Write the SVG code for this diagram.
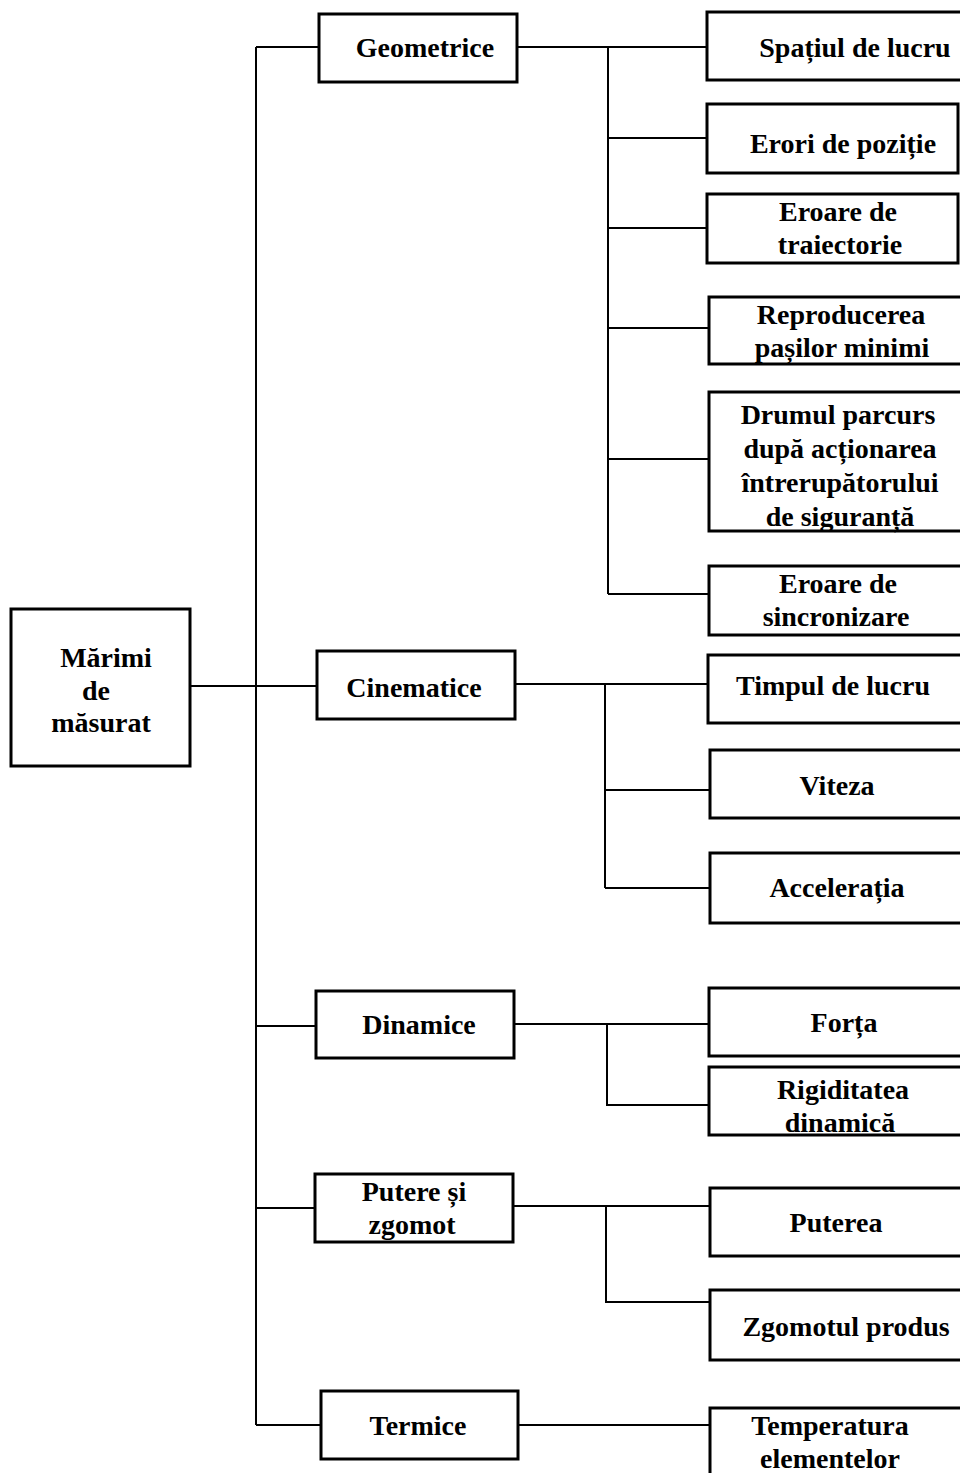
<svg xmlns="http://www.w3.org/2000/svg" width="960" height="1473" viewBox="0 0 960 1473">
<style>
.box{fill:#fff;stroke:#000;stroke-width:3}
.ln{fill:none;stroke:#000;stroke-width:2}
text{font-family:"Liberation Serif","Times New Roman",serif;font-weight:bold;font-size:28px;fill:#000;text-anchor:middle;dominant-baseline:central}
</style>
<rect width="960" height="1473" fill="#fff"/>
<g id="connectors">
<path class="ln" d="M256 47V1425M256 47H319M256 1026H316M256 1208H315M256 1425H321M190 686H317"/>
<path class="ln" d="M517 47H708M608 47V594M608 138H707M608 228H707M608 328H709M608 459H709M608 594H709"/>
<path class="ln" d="M515 684H708M605 684V888M605 790H710M605 888H710"/>
<path class="ln" d="M514 1024H709M607 1024V1105H709"/>
<path class="ln" d="M513 1206H710M606 1206V1302H710"/>
<path class="ln" d="M518 1425H710"/>
</g>
<g id="root"><rect class="box" x="11" y="609" width="179" height="157"/><text x="106" y="657">Mărimi</text><text x="96" y="690">de</text><text x="101" y="722">măsurat</text></g>
<g id="geometrice"><rect class="box" x="319" y="14" width="198" height="68"/><text x="425" y="47">Geometrice</text></g>
<g id="cinematice"><rect class="box" x="317" y="651" width="198" height="68"/><text x="414" y="687">Cinematice</text></g>
<g id="dinamice"><rect class="box" x="316" y="991" width="198" height="67"/><text x="419" y="1024">Dinamice</text></g>
<g id="putere"><rect class="box" x="315" y="1174" width="198" height="68"/><text x="414" y="1191">Putere și</text><text x="412" y="1224">zgomot</text></g>
<g id="termice"><rect class="box" x="321" y="1391" width="197" height="68"/><text x="418" y="1425">Termice</text></g>
<g id="spatiul"><rect class="box" x="707" y="12" width="260" height="68"/><text x="855" y="47">Spațiul de lucru</text></g>
<g id="erori"><rect class="box" x="707" y="104" width="251" height="69"/><text x="843" y="143">Erori de poziție</text></g>
<g id="traiectorie"><rect class="box" x="707" y="194" width="251" height="69"/><text x="838" y="211">Eroare de</text><text x="840" y="244">traiectorie</text></g>
<g id="reproducerea"><rect class="box" x="709" y="297" width="260" height="67"/><text x="841" y="314">Reproducerea</text><text x="842" y="347">pașilor minimi</text></g>
<g id="drumul"><rect class="box" x="709" y="392" width="260" height="139"/><text x="838" y="414">Drumul parcurs</text><text x="840" y="448">după acționarea</text><text x="840" y="482">întrerupătorului</text><text x="840" y="516">de siguranță</text></g>
<g id="sincronizare"><rect class="box" x="709" y="566" width="260" height="69"/><text x="838" y="583">Eroare de</text><text x="836" y="616">sincronizare</text></g>
<g id="timpul"><rect class="box" x="708" y="655" width="260" height="68"/><text x="833" y="685">Timpul de lucru</text></g>
<g id="viteza"><rect class="box" x="710" y="750" width="260" height="68"/><text x="837" y="785">Viteza</text></g>
<g id="acceleratia"><rect class="box" x="710" y="853" width="260" height="70"/><text x="837" y="887">Accelerația</text></g>
<g id="forta"><rect class="box" x="709" y="988" width="260" height="68"/><text x="844" y="1022">Forța</text></g>
<g id="rigiditatea"><rect class="box" x="709" y="1067" width="260" height="68"/><text x="843" y="1089">Rigiditatea</text><text x="840" y="1122">dinamică</text></g>
<g id="puterea"><rect class="box" x="710" y="1188" width="260" height="68"/><text x="836" y="1222">Puterea</text></g>
<g id="zgomotul"><rect class="box" x="710" y="1290" width="260" height="70"/><text x="846" y="1326">Zgomotul produs</text></g>
<g id="temperatura"><rect class="box" x="710" y="1408" width="260" height="80"/><text x="830" y="1425">Temperatura</text><text x="830" y="1458">elementelor</text></g>
</svg>
